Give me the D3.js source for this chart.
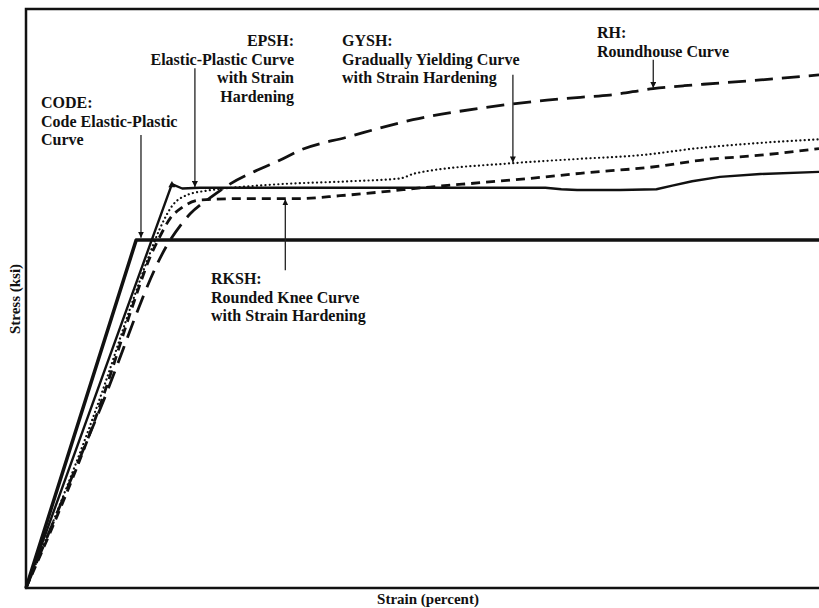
<!DOCTYPE html>
<html>
<head>
<meta charset="utf-8">
<script src="https://cdn.jsdelivr.net/npm/d3@7/dist/d3.min.js"></script>
<style>
  body { margin: 0; background: #fff; }
  text { font-family: "Times New Roman", Tinos, "Liberation Serif", "DejaVu Serif", serif; font-weight: 700; }
</style>
</head>
<body>
<svg width="819" height="608"></svg>
<script>
// stress-strain curves (strain %, stress ksi - no ticks, so arbitrary units)
var codeCurve = [[0, 0], [1.39, 48.1], [10, 48.1]];

var epshCurve = [[0, 0], [1.84, 55.8], [1.97, 55.2], [2.19, 55.3], [3.45, 55.3], [4.72, 55.3],
  [5.98, 55.3], [6.55, 55.3], [6.75, 55.1], [6.95, 55.0], [7.49, 55.0], [7.95, 55.1],
  [8.15, 55.6], [8.40, 56.2], [8.75, 56.8], [9.26, 57.2], [10, 57.5]];

var gyshCurve = [[0, 0], [0.97, 27.4], [1.35, 39.8], [1.54, 45.6], [1.69, 49.7], [1.85, 52.9],
  [2.03, 54.3], [2.28, 54.9], [2.70, 55.4], [3.20, 55.8], [4.09, 56.2], [4.72, 56.6],
  [4.91, 57.3], [6.14, 58.7], [6.99, 59.3], [7.74, 59.8], [8.50, 60.8], [9.26, 61.5], [10, 62.0]];

var rkshCurve = [[0, 0], [0.98, 26.7], [1.37, 39.8], [1.56, 45.6], [1.69, 48.6], [1.82, 51.1],
  [1.97, 52.6], [2.19, 53.6], [2.70, 53.8], [3.42, 53.8], [3.96, 54.2], [4.46, 54.7],
  [5.09, 55.4], [5.73, 56.0], [6.36, 56.6], [6.99, 57.3], [8.00, 58.3], [8.50, 59.1],
  [9.26, 59.8], [10, 60.7]];

var rhCurve = [[0, 0], [0.93, 24.6], [1.82, 48.1], [2.07, 51.7], [2.32, 53.9], [2.57, 55.8],
  [2.89, 57.6], [3.20, 59.1], [3.46, 60.5], [4.05, 62.3], [4.88, 64.7], [5.73, 66.3],
  [6.57, 67.4], [6.99, 67.8], [7.36, 68.1], [7.91, 69.0], [8.30, 69.4], [8.54, 69.6],
  [9.26, 70.2], [10, 70.9]];

// annotation text
var codeLabel = ["CODE:", "Code Elastic-Plastic", "Curve"];
var epshLabel = ["EPSH:", "Elastic-Plastic Curve", "with Strain", "Hardening"];
var gyshLabel = ["GYSH:", "Gradually Yielding Curve", "with Strain Hardening"];
var rhLabel = ["RH:", "Roundhouse Curve"];
var rkshLabel = ["RKSH:", "Rounded Knee Curve", "with Strain Hardening"];

// arrow anchors: [strain, stress from, stress to]
var codeArrow = [1.45, 62.6, 48.4];
var epshArrow = [2.13, 71.8, 55.4];
var gyshArrow = [6.14, 70.9, 58.8];
var rhArrow = [7.91, 73.0, 69.1];
var rkshArrow = [3.27, 43.9, 53.7];

var svg = d3.select("svg"),
    margin = {top: 9, right: 0, bottom: 20, left: 26},
    width = svg.attr("width") - margin.left - margin.right,
    height = svg.attr("height") - margin.top - margin.bottom,
    g = svg.append("g").attr("transform", "translate(" + margin.left + "," + margin.top + ")");

var x = d3.scaleLinear().domain([0, 10]).range([0, width]),
    y = d3.scaleLinear().domain([0, 80]).range([height, 0]);

var line = d3.line()
    .x(function(d) { return x(d[0]); })
    .y(function(d) { return y(d[1]); });

var smooth = d3.line()
    .curve(d3.curveMonotoneX)
    .x(function(d) { return x(d[0]); })
    .y(function(d) { return y(d[1]); });

// frame (top, left, bottom - right side is cut off)
g.append("path")
    .attr("d", "M" + width + ",0H0V" + height + "H" + width)
    .attr("fill", "none")
    .attr("stroke", "#111")
    .attr("stroke-width", 2.5);

// curves
var series = [
  {data: codeCurve, gen: line, w: 3.5, dash: null},
  {data: epshCurve, gen: line, w: 2.4, dash: null},
  {data: gyshCurve, gen: smooth, w: 2.2, dash: "0.1,4.2", cap: "round"},
  {data: rkshCurve, gen: smooth, w: 2.8, dash: "9,6"},
  {data: rhCurve, gen: smooth, w: 2.8, dash: "18,9"}
];

g.selectAll(".curve")
    .data(series)
    .enter().append("path")
    .attr("class", "curve")
    .attr("d", function(d) { return d.gen(d.data); })
    .attr("fill", "none")
    .attr("stroke", "#111")
    .attr("stroke-width", function(d) { return d.w; })
    .attr("stroke-dasharray", function(d) { return d.dash; })
    .attr("stroke-linecap", function(d) { return d.cap || "butt"; })
    .attr("stroke-linejoin", "round");

// small blob at the EPSH peak
g.append("path")
    .attr("d", d3.symbol().type(d3.symbolTriangle).size(22)())
    .attr("transform", "translate(" + x(epshCurve[1][0]) + "," + (y(epshCurve[1][1]) + 1) + ")")
    .attr("fill", "#111");

// arrows
var defs = svg.append("defs");
defs.append("marker")
    .attr("id", "head")
    .attr("viewBox", "0 0 10 10")
    .attr("refX", 10).attr("refY", 5)
    .attr("markerWidth", 6).attr("markerHeight", 6)
    .attr("markerUnits", "userSpaceOnUse")
    .attr("orient", "auto")
    .append("path")
    .attr("d", "M0,0L10,5L0,10Z")
    .attr("fill", "#111");

g.selectAll(".arrow")
    .data([codeArrow, epshArrow, gyshArrow, rhArrow, rkshArrow])
    .enter().append("line")
    .attr("class", "arrow")
    .attr("x1", function(d) { return x(d[0]); })
    .attr("x2", function(d) { return x(d[0]); })
    .attr("y1", function(d) { return y(d[1]); })
    .attr("y2", function(d) { return y(d[2]); })
    .attr("stroke", "#222")
    .attr("stroke-width", 1.3)
    .attr("marker-end", "url(#head)");

// labels, positions in page pixels
function label(lines, px, py, anchor) {
  var t = svg.append("text")
      .attr("x", px).attr("y", py)
      .attr("text-anchor", anchor)
      .style("font-size", "16px")
      .attr("fill", "#111");
  t.selectAll("tspan")
      .data(lines)
      .enter().append("tspan")
      .attr("x", px)
      .attr("dy", function(d, i) { return i ? 18.6 : 0; })
      .text(function(d) { return d; });
}
label(codeLabel, 41, 108, "start");
label(epshLabel, 294, 46, "end");
label(gyshLabel, 342, 46, "start");
label(rhLabel, 597, 38, "start");
label(rkshLabel, 211, 284, "start");

// axis titles
svg.append("text")
    .attr("x", 428).attr("y", 604)
    .attr("text-anchor", "middle")
    .style("font-size", "15px")
    .attr("fill", "#111")
    .text("Strain (percent)");

svg.append("text")
    .attr("transform", "translate(20,299) rotate(-90)")
    .attr("text-anchor", "middle")
    .style("font-size", "15px")
    .attr("fill", "#111")
    .text("Stress (ksi)");
</script>
</body>
</html>
